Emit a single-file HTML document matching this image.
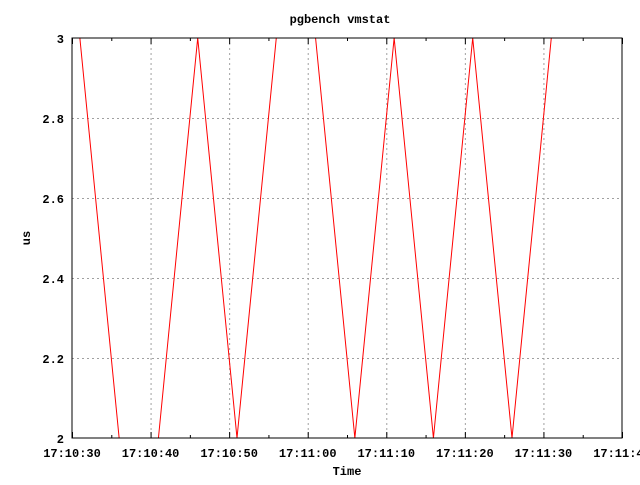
<!DOCTYPE html>
<html><head><meta charset="utf-8"><style>
body{margin:0;background:#fff}
svg text{font-family:"Liberation Mono",monospace;font-weight:bold;font-size:12px;fill:#000}
</style></head><body>
<svg id="chart" width="640" height="480" xmlns="http://www.w3.org/2000/svg">
<text x="340" y="23" text-anchor="middle">pgbench vmstat</text>
<text x="30" y="238" text-anchor="middle" transform="rotate(-90 30 238)">us</text>
<text x="347" y="475" text-anchor="middle">Time</text>
<g id="grid"></g><g id="axes"></g><g id="series"></g>
<rect x="72" y="38" width="550" height="400" fill="none" stroke="#000" stroke-width="1"/>
</svg>
<script>
const times=[1,6,11,16,21,26,31,36,41,46,51,56,61]; // seconds after 17:10:30
const values=[3,2,2,3,2,3,3,2,3,2,3,2,3];
const xTicks=[0,10,20,30,40,50,60,70];
const xTickLabels=["17:10:30","17:10:40","17:10:50","17:11:00","17:11:10","17:11:20","17:11:30","17:11:40"];
const yTicks=[2,2.2,2.4,2.6,2.8,3];
const yTickLabels=["2","2.2","2.4","2.6","2.8","3"];
const L=72,R=622,T=38,B=438,xMin=0,xMax=70,yMin=2,yMax=3;
const xs=t=>L+(t-xMin)/(xMax-xMin)*(R-L);
const ys=v=>B-(v-yMin)/(yMax-yMin)*(B-T);
const NS="http://www.w3.org/2000/svg";
function mk(tag,attrs,parent){const e=document.createElementNS(NS,tag);for(const k in attrs)e.setAttribute(k,attrs[k]);parent.appendChild(e);return e;}
const grid=document.getElementById('grid'),axes=document.getElementById('axes'),ser=document.getElementById('series');
xTicks.forEach((t,i)=>{const x=xs(t)+0.5;
 if(t>xMin&&t<xMax){const g=mk('line',{x1:x,x2:x,y1:T,y2:B,stroke:'#a0a0a0','stroke-dasharray':'2,3'},grid);
 
 }
 [[B,B-6],[T,T+6]].forEach(p=>{const k=mk('line',{x1:x,x2:x,y1:p[0],y2:p[1],stroke:'#000'},axes);
 
 });
 const mt=t+5; if(mt<xMax){const mx=xs(mt)+0.5;[[B,B-3],[T,T+3]].forEach(p=>{const k=mk('line',{x1:mx,x2:mx,y1:p[0],y2:p[1],stroke:'#000'},axes);
 
 });}
 const lb=mk('text',{x:xs(t),y:B+19,'text-anchor':'middle'},axes);lb.textContent=xTickLabels[i];
 
 
});
yTicks.forEach((v,i)=>{const y=ys(v)+0.5;
 if(v>yMin&&v<yMax){const g=mk('line',{x1:L,x2:R,y1:y,y2:y,stroke:'#a0a0a0','stroke-dasharray':'2,3'},grid);
 
 }
 const lb=mk('text',{x:L-8,y:ys(v)+5,'text-anchor':'end'},axes);lb.textContent=yTickLabels[i];
 
 
});
mk('clipPath',{id:'clip'},ser).appendChild(document.createElementNS(NS,'rect'));
const cr=document.querySelector('#clip rect');cr.setAttribute('x',L);cr.setAttribute('y',T);cr.setAttribute('width',R-L);cr.setAttribute('height',B-T);
const pts=times.map((t,i)=>xs(t)+','+ys(values[i])).join(' ');
const line=mk('polyline',{points:pts,fill:'none',stroke:'#ff0000','stroke-width':1,'clip-path':'url(#clip)'},ser);


</script>
</body></html>
